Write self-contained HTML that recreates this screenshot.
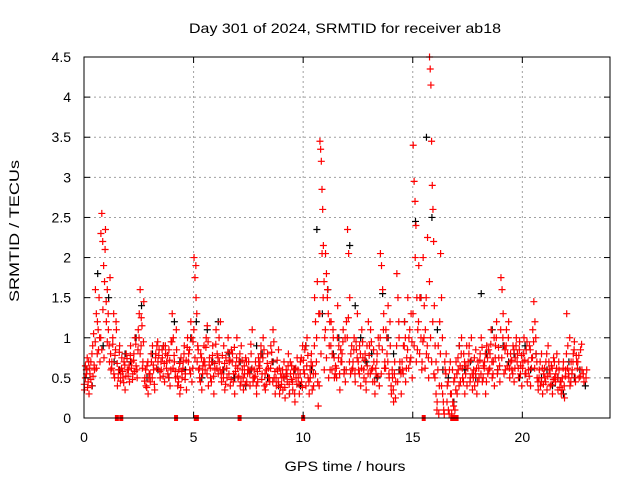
<!DOCTYPE html>
<html><head><meta charset="utf-8"><style>
body{margin:0;background:#fff;font-family:"Liberation Sans",sans-serif;}
svg text{font-family:"Liberation Sans",sans-serif;font-size:14px;fill:#000;}
</style></head><body>
<svg id="chart" width="640" height="480" viewBox="0 0 640 480">
<rect width="640" height="480" fill="#fff"/>
<g id="grid"></g>
<g id="black"></g>
<g id="red"></g>
<g id="axes"></g>
<text x="345" y="33" text-anchor="middle" textLength="312" lengthAdjust="spacingAndGlyphs">Day 301 of 2024, SRMTID for receiver ab18</text>
<text x="345" y="471" text-anchor="middle" textLength="121" lengthAdjust="spacingAndGlyphs">GPS time / hours</text>
<text x="19" y="231" text-anchor="middle" textLength="142" lengthAdjust="spacingAndGlyphs" transform="rotate(-90 19 231)">SRMTID / TECUs</text>
</svg>
<script>
const xTicks=[0,5,10,15,20];
const yTicks=[0,0.5,1,1.5,2,2.5,3,3.5,4,4.5];
const yTickLabels=["0","0.5","1","1.5","2","2.5","3","3.5","4","4.5"];
const redSlotStart=0, redSlotWidth=0.25;
const redValues=[
[0.35,0.5,0.6,0.75,0.45,0.3],[0.55,0.7,0.4,0.9,1.05,0.6],[1.6,1.3,0.8,1.1,1.5,0.7],[2.3,2.55,2.2,1.9,1.7,2.35],
[1.2,1.6,1.3,0.9,1.75,0.6],[0.7,1.0,1.3,0.5,0.85,1.1],[0.4,0.6,0.9,0.55,0.75],[0.5,0.7,0.35,0.8,0.6],
[0.6,0.45,0.9,0.7,0.55],[0.8,1.0,0.65,0.5,1.1],[1.3,1.6,0.9,1.15,0.7,1.45],[0.5,0.4,0.65,0.3,0.55],
[0.45,0.7,0.9,0.6,0.35],[0.8,0.9,0.7,0.85,0.5],[0.6,0.75,0.9,0.45,0.8],[0.7,0.55,0.85,0.4,0.95],
[1.3,1.0,0.7,0.5,0.85],[0.4,0.6,0.3,0.75,0.5],[0.7,0.9,0.55,0.35,1.0],[0.8,0.6,1.2,0.45,0.95],
[2.0,1.75,1.9,1.3,0.9,0.6],[0.5,0.8,0.35,0.65,0.9],[0.6,1.0,1.15,0.4,0.75],[0.5,0.7,0.9,0.3,0.6],
[1.1,0.8,0.55,0.7,1.2],[0.45,0.6,0.9,0.35,0.75],[0.5,1.0,0.7,0.4,0.85],[0.8,0.55,0.3,0.65,1.0],
[0.5,0.7,0.4,0.9,0.6],[0.35,0.55,0.75,0.45,0.6],[0.6,0.4,0.8,1.1,0.5],[0.5,0.7,0.3,0.45,0.65],
[0.7,0.9,0.55,1.0,0.4],[0.35,0.6,0.8,0.5,0.45],[0.9,0.7,1.1,0.5,0.3],[0.4,0.6,0.85,0.3,0.55],
[0.5,0.35,0.7,0.25,0.6],[0.45,0.8,0.3,0.55,0.65],[0.35,0.6,0.2,0.5,0.75],[0.5,0.3,0.7,0.45,0.9],
[0.6,0.85,0.4,1.0,0.5],[0.3,0.5,0.8,0.65,0.4],[1.5,1.2,0.7,1.7,0.15,0.4],[3.45,3.35,3.2,2.85,2.6,2.15,1.7,1.0],
[2.05,1.8,1.5,1.3,0.9,0.6],[1.2,0.8,1.0,0.5,0.65],[0.5,1.4,0.9,0.35,0.7],[0.8,1.1,0.6,0.45,1.2],
[2.35,2.05,1.5,0.8,0.6],[0.7,1.0,0.45,0.85,1.3],[0.6,0.9,0.4,1.1,0.75],[0.5,0.8,0.35,0.65,1.2],
[0.9,1.1,0.6,0.45,0.7],[0.3,0.55,0.8,1.0,0.4],[2.05,1.9,1.6,1.3,0.7],[1.1,0.8,1.4,0.5,0.9],
[0.3,0.5,0.2,0.7,0.45],[1.8,1.5,1.0,0.6,0.3],[0.6,0.9,1.2,0.45,0.75],[1.5,1.0,0.7,1.3,0.5],
[3.4,2.95,2.7,2.4,1.5,1.1],[1.9,1.5,1.0,0.7,2.0],[1.4,1.1,0.8,2.25,0.5],[4.5,4.35,4.15,3.45,2.9,2.6,2.2,1.4],
[0.9,0.3,0.1,0.6,0.05,1.2],[2.05,1.5,1.0,0.2,0.05,0.6],[0.8,0.4,0.1,0.6,0.3],[0.05,0.2,0.45,0.1,0.7],
[0.3,0.6,0.9,0.45,1.0],[0.5,0.8,0.3,0.65,0.4],[0.7,0.9,0.5,1.0,0.35],[0.6,0.4,0.85,0.3,0.7],
[0.5,0.8,1.0,0.45,0.65],[0.7,0.3,0.9,0.55,0.6],[0.8,1.1,0.5,0.7,0.4],[0.9,1.2,0.6,0.75,0.45],
[1.75,1.6,1.3,0.9,0.6],[1.1,0.8,1.2,0.5,0.7],[0.6,0.9,0.45,0.75,1.0],[0.8,0.5,0.95,0.65,0.4],
[0.7,1.0,0.55,0.85,0.45],[0.6,0.9,0.4,0.75,1.1],[1.45,1.2,0.8,0.5,0.35],[0.6,0.4,0.8,0.3,0.55],
[0.5,0.7,0.35,0.9,0.6],[0.4,0.65,0.3,0.75,0.5],[0.55,0.8,0.35,0.6,0.45],[0.3,0.5,0.7,0.25,0.6],
[1.3,0.9,0.5,0.4,0.7],[0.6,0.8,0.95,0.45,0.7],[0.7,0.5,0.85,0.6],[0.45,0.6]
];
const redValuesBand=[
[0.42,0.65,0.55,0.38,0.7],[0.62,0.48,0.8,0.52,0.66],[0.95,0.62,1.2,0.85,1.0],[1.0,0.85,1.35,0.75,2.1],
[1.45,0.95,1.1,0.7,0.8],[0.62,0.92,0.55,0.78,1.2],[0.68,0.5,0.82,0.46,0.62],[0.58,0.44,0.66,0.52,0.74],
[0.52,0.66,0.78,0.62,0.48],[0.72,0.58,0.92,0.6,0.85],[1.0,0.8,1.25,0.62,0.95],[0.46,0.6,0.38,0.7,0.5],
[0.55,0.8,0.5,0.66,0.42],[0.75,0.62,0.95,0.78,0.58],[0.7,0.85,0.52,0.68,0.9],[0.62,0.78,0.5,0.72,0.6],
[0.95,0.62,0.78,0.58,1.1],[0.52,0.45,0.68,0.38,0.58],[0.62,0.8,0.48,0.72,0.88],[0.7,0.85,0.55,1.0,0.62],
[1.1,0.75,1.5,0.7,0.85],[0.62,0.45,0.75,0.55,0.7],[0.7,0.88,0.55,0.95,0.66],[0.62,0.45,0.78,0.52,0.68],
[0.92,0.62,0.75,1.0,0.6],[0.55,0.78,0.5,0.68,0.42],[0.62,0.82,0.55,0.72,0.48],[0.7,0.45,0.88,0.58,0.75],
[0.62,0.52,0.8,0.45,0.72],[0.5,0.65,0.42,0.7,0.55],[0.7,0.55,0.92,0.62,0.45],[0.6,0.52,0.4,0.58,0.75],
[0.62,0.8,0.48,0.75,0.85],[0.55,0.42,0.68,0.62,0.5],[0.62,0.82,0.45,0.95,0.58],[0.5,0.72,0.45,0.62,0.38],
[0.42,0.6,0.5,0.38,0.52],[0.55,0.65,0.42,0.7,0.48],[0.45,0.55,0.3,0.62,0.42],[0.6,0.42,0.55,0.75,0.38],
[0.72,0.55,0.9,0.65,0.78],[0.45,0.6,0.7,0.35,0.55],[0.9,0.55,1.0,0.45,1.3],[1.3,0.8,2.05,1.5,0.6],
[1.1,0.75,1.6,0.5,1.2],[0.9,0.6,1.1,0.75,0.55],[0.62,1.0,0.75,0.55,0.85],[0.7,0.95,0.55,1.0,0.6],
[1.0,1.25,0.7,0.55,0.9],[0.62,0.85,0.55,0.95,0.75],[0.7,0.55,0.8,0.62,0.95],[0.6,0.72,0.45,0.9,0.55],
[0.78,0.55,0.95,0.62,0.85],[0.45,0.62,0.7,0.52,0.9],[1.0,0.55,0.85,1.1,0.62],[0.62,1.0,0.7,0.55,1.2],
[0.4,0.6,0.35,0.55,0.25],[0.9,0.45,1.2,0.7,0.55],[0.7,0.55,0.9,1.0,0.62],[0.85,0.62,1.1,0.75,0.95],
[1.3,0.9,2.0,0.7,0.85],[1.2,0.8,1.5,0.6,0.95],[1.0,0.62,1.5,0.9,0.75],[1.7,1.0,0.7,1.2,0.55],
[0.5,0.7,0.2,0.9,0.4],[0.8,0.4,0.3,0.1,0.7],[0.55,0.2,0.45,0.05,0.7],[0.3,0.6,0.15,0.5,0.35],
[0.55,0.75,0.4,0.65,0.8],[0.62,0.45,0.7,0.55,0.9],[0.62,0.8,0.45,0.72,0.55],[0.5,0.75,0.55,0.62,0.45],
[0.62,0.72,0.55,0.88,0.5],[0.62,0.8,0.45,0.75,0.85],[0.62,0.92,0.7,0.55,1.0],[0.75,1.0,0.55,0.88,0.65],
[1.1,0.75,1.0,0.55,0.85],[0.9,0.65,1.0,0.62,0.8],[0.72,0.55,0.85,0.62,0.9],[0.7,0.62,0.85,0.55,0.78],
[0.62,0.8,0.72,0.55,0.95],[0.7,0.52,0.85,0.62,0.75],[0.95,0.62,1.0,0.7,0.45],[0.5,0.7,0.45,0.62,0.42],
[0.62,0.45,0.8,0.52,0.7],[0.55,0.42,0.62,0.48,0.7],[0.45,0.62,0.5,0.7,0.38],[0.45,0.35,0.62,0.4,0.52],
[0.8,0.62,0.55,1.0,0.45],[0.55,0.7,0.85,0.5,0.78],[0.62,0.78,0.52,0.92],[0.55,0.5]
];
const blackSlotWidth=0.5;
const blackValues=[
[0.6,0.4],[1.8,0.9],[1.5,0.7],[0.6,0.8],[0.7,1.0],[1.4,0.5],[0.8,0.6],[0.9,0.5],
[1.2,0.7],[0.6,1.0],[1.2,0.5],[1.1,0.7],[1.2,0.6],[0.8,0.5],[0.7,0.4],[0.6,0.9],
[0.8,0.5],[0.7,0.4],[0.5,0.3],[0.6,0.4],[0.9,0.6],[2.35,1.3],[1.6,0.8],[1.0,0.6],
[2.15,1.4],[1.0,0.7],[0.8,0.5],[1.55,1.0],[0.8,0.6],[1.2,0.7],[2.45,1.5],[3.5,2.5],
[1.1,0.6],[0.5,0.2],[0.9,0.6],[0.7,0.5],[1.55,0.8],[1.1,0.6],[0.9,0.7],[0.8,0.5],
[0.9,0.6],[0.8,0.5],[0.6,0.4],[0.5,0.3],[0.7,0.5],[0.6,0.4]
];
const zeroMarkTimes=[1.5,1.7,4.2,5.1,5.15,7.1,10.0,15.5,16.8,16.9,17.0];
const X0=84,X1=610,Y0=418,Y1=57,XMAX=24,YMAX=4.5;
const sx=v=>X0+(X1-X0)*v/XMAX, sy=v=>Y0-(Y0-Y1)*v/YMAX;
const NS="http://www.w3.org/2000/svg";
function mk(tag,attrs,parent){const e=document.createElementNS(NS,tag);for(const k in attrs)e.setAttribute(k,attrs[k]);parent.appendChild(e);return e;}
const grid=document.getElementById('grid'),axes=document.getElementById('axes');
yTicks.forEach((t,i)=>{const y=sy(t);
 if(t>0&&t<YMAX){const l=mk('line',{x1:X0,x2:X1,y1:y,y2:y,stroke:'#a0a0a0','stroke-dasharray':'2,3'},grid);
 
 }
 mk('line',{x1:X0,x2:X0+6,y1:y,y2:y,stroke:'#000'},axes);mk('line',{x1:X1,x2:X1-6,y1:y,y2:y,stroke:'#000'},axes);
 const tx=mk('text',{x:X0-13,y:y+5,'text-anchor':'end'},axes);tx.textContent=yTickLabels[i];
 
 });
xTicks.forEach(t=>{const x=sx(t);
 if(t>0){const l=mk('line',{x1:x,x2:x,y1:Y0,y2:Y1,stroke:'#a0a0a0','stroke-dasharray':'2,3'},grid);
 
 }
 mk('line',{x1:x,x2:x,y1:Y0,y2:Y0-6,stroke:'#000'},axes);mk('line',{x1:x,x2:x,y1:Y1,y2:Y1+6,stroke:'#000'},axes);
 const tx=mk('text',{x:x,y:Y0+24,'text-anchor':'middle'},axes);tx.textContent=String(t);
 
 });
const fr=mk('rect',{x:X0,y:Y1,width:X1-X0,height:Y0-Y1,fill:'none',stroke:'#000'},axes);


function plus(g,x,y,c){mk('path',{d:`M${x-3.5} ${y}h7M${x} ${y-3.5}v7`,stroke:c,'stroke-width':1.2,fill:'none'},g);}
const bg=document.getElementById('black');
blackValues.forEach((vals,i)=>vals.forEach((v,j)=>{const t=i*blackSlotWidth+(j+0.5)*blackSlotWidth/vals.length;plus(bg,sx(t),sy(v),'#000');}));
const rg=document.getElementById('red');
redValues.forEach((vals,i)=>vals.forEach((v,j)=>{const t=redSlotStart+i*redSlotWidth+(j+0.5)*redSlotWidth/vals.length;plus(rg,sx(t),sy(v),'#f00');}));
redValuesBand.forEach((vals,i)=>vals.forEach((v,j)=>{const t=redSlotStart+i*redSlotWidth+(j+0.25)*redSlotWidth/vals.length;plus(rg,sx(t),sy(v),'#f00');}));
zeroMarkTimes.forEach(t=>{const r=mk('rect',{x:sx(t)-2,y:Y0-3,width:4,height:6,fill:'#f00'},rg);
 
 });
</script>
</body></html>
